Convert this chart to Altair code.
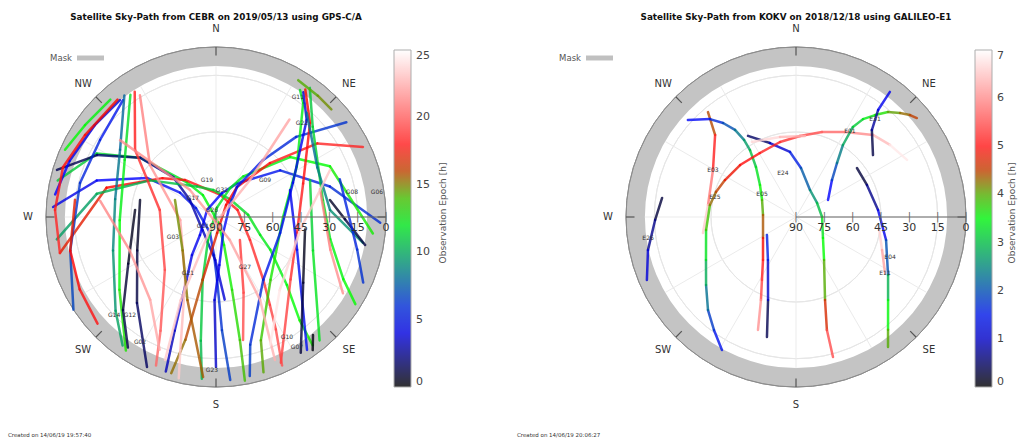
import altair as alt
import pandas as pd

FONT = "DejaVu Sans"
PANEL_W = 509
PANEL_H = 439
R = 170.0

# ---------------- colour bar ----------------
CMAP = ["#000000", "#0000ff", "#00ff00", "#ff0000", "#ffffff"]
CEBR_EPOCH_STOPS = [0, 4.6, 12.9, 17.1, 25]
KOKV_EPOCH_STOPS = [0, 1.29, 3.61, 4.79, 7]
CEBR_TICKS = [0, 5, 10, 15, 20, 25]
KOKV_TICKS = [0, 1, 2, 3, 4, 5, 6, 7]

# ---------------- polar frame ----------------
ELEV_GRID = [15, 30, 45, 60, 75]
ELEV_TICKS = [90, 75, 60, 45, 30, 15, 0]
SPOKE_AZ = [0, 30, 60, 90, 120, 150, 180, 210, 240, 270, 300, 330]
COMPASS_LABELS = ["N", "NE", "SE", "S", "SW", "W", "NW"]
COMPASS_AZ = [0, 45, 135, 180, 225, 270, 315]
COMPASS_TICK_AZ = [0, 45, 90, 135, 180, 225, 270, 315]
MASK_EL = 10

# ---------------- CEBR GPS tracks (az deg, el deg, epoch h) ----------------
C01 = [(283, 4, 11.0), (298, 18.5, 11.4), (308, 39, 11.8), (320, 66, 12.3), (329, 76.5, 12.5), (158, 87, 12.8),
       (164, 74.6, 13.0), (167.6, 50.5, 13.3), (169, 23.7, 13.7), (170, 2, 14.2)]
C02 = [(273.5, 3.6, 4.0), (287, 24, 4.4), (299.5, 48, 4.8), (304, 67, 5.1), (294, 78.4, 5.3), (200.6, 81, 5.5),
       (183, 69.8, 5.7), (179, 56.6, 5.9), (177, 30, 6.3), (175, 3.4, 6.6)]
C03 = [(257, 5.2, 16.4), (285, 30, 16.9), (306, 55, 17.3), (320, 64.4, 17.5), (10, 78, 17.8), (72, 78, 18.0),
       (124, 68.3, 18.3), (143, 48.4, 18.7), (148.5, 35.4, 19.0), (152, 22.5, 19.3), (156, 4, 19.8)]
C04 = [(286.5, 2.2, 1.2), (297.5, 19, 1.7), (308, 39, 2.2), (313, 59, 2.7), (303, 73.5, 3.0), (225, 80, 3.3),
       (181, 67.2, 3.6), (174, 46, 4.0)]
C05 = [(262, 4.9, 9.5), (281, 25.7, 10.0), (299, 50, 10.6), (328, 71, 11.1), (354, 75.6, 11.3), (39.5, 78, 11.6),
       (86, 73, 11.9), (112, 64.8, 12.1), (121, 56.5, 12.3), (133.8, 38, 12.7), (141, 19.6, 13.0), (143, 5, 13.4)]
C06 = [(92, 3, 6.2), (75, 27.6, 5.8), (54, 48, 5.4), (32, 69, 5.0), (14, 77, 4.8), (308, 84, 4.6),
       (221.6, 77.2, 4.4), (212.3, 66.2, 4.2), (205, 53, 4.0), (200, 26, 3.6), (198, 4, 3.1)]
C07 = [(96, 6.5, 13.4), (66, 24, 13.0), (51, 39.6, 12.6), (34, 64, 12.2), (26, 73, 12.0), (6, 85, 11.8),
       (199, 77, 11.5), (192, 56, 11.3), (187, 24, 10.8), (185, 4, 10.3)]
C08 = [(64.5, 3.8, 18.4), (54, 23.7, 18.0), (45, 49.6, 17.6), (35, 70.6, 17.2), (40, 81.7, 17.0), (176, 81.5, 16.8),
       (192, 56, 16.3), (194, 23, 15.6), (196, 4, 15.0)]
C09 = [(54, 4.7, 6.4), (45, 30, 6.0), (39.5, 51, 5.6), (35, 70.6, 5.2), (49, 80.3, 5.0), (156, 80.7, 4.7),
       (176, 64.5, 4.3), (181, 46, 4.0), (180, 10.6, 3.2)]
C10 = [(33.5, 9.4, 11.8), (37.4, 14, 12.0), (58, 39.6, 12.5), (90, 54.5, 13.0), (139, 46, 13.5), (160, 20.5, 14.1), (163, 4, 14.6)]
C11 = [(35, 9.4, 3.6), (43, 19.6, 4.0), (66, 45.4, 4.6), (104, 55, 5.1), (143, 48.4, 5.6), (165, 20, 6.2), (168, 4, 6.7)]
C12 = [(35, 7.6, 16.8), (45, 19.6, 17.2), (69, 40.6, 17.7), (101, 46.3, 18.2), (130, 38.5, 18.7), (156, 5.6, 19.5)]
C13 = [(36, 5.5, 10.8), (47, 20, 11.2), (81, 32.7, 11.8), (101, 28.4, 12.3), (116, 15, 12.8), (122, 3, 13.1)]
C14 = [(41, 16.8, 7.8), (64, 30.3, 8.4), (86.5, 29.5, 9.0), (100, 11, 9.6)]
C15 = [(81.5, 29, 0.4), (91, 21.7, 0.9), (100.6, 9.7, 1.4)]
C16 = [(320.6, 9.9, 3.6), (307, 9.5, 4.0), (291, 7, 4.4), (278, 4, 4.8)]
C17 = [(318, 6.4, 12.4), (305, 5.3, 12.7), (294, 2.5, 13.0)]
C18 = [(320, 8.9, 16.8), (302, 8.2, 17.2), (288, 4.8, 17.6), (272.5, 4.7, 18.0), (257, 5.2, 18.4)]
C19 = [(321.5, 10.9, 5.0), (303.6, 16.3, 5.5), (284, 15.8, 6.0), (257, 10.8, 6.5), (237, 0, 7.0)]
C20 = [(323, 9.4, 7.6), (305, 28, 8.1), (280, 35.8, 8.6), (252, 32.7, 9.1), (227, 17.3, 9.6), (216, 5.9, 10.1)]
C21 = [(325, 11, 11.6), (302, 33, 12.1), (268, 39, 12.6), (233, 26, 13.1), (214, 4.7, 13.6)]
C22 = [(327, 11, 17.6), (309.6, 34.4, 18.2), (277, 60, 18.8), (224, 51, 19.4), (206, 23, 20.0), (202, 5.2, 20.6)]
C23 = [(328, 14, 20.8), (308.2, 45.5, 21.4), (265, 71, 22.0), (206, 52.8, 22.6), (195, 17, 23.2), (193, 2.4, 23.6)]
C24 = [(277, 14.8, 16.4), (257, 10.8, 16.9), (242, 8.3, 17.4), (228, 5.6, 17.8)]
C25 = [(275, 47, 0.3), (242, 37.4, 0.7), (225, 20.4, 1.1), (214, 6.6, 1.5)]
C26 = [(282.6, 48.8, 0.4), (247, 44.7, 0.9), (222.6, 28.2, 1.4), (204.7, 2.6, 2.0)]
C27 = [(292.5, 66.5, 14.6), (225, 65, 15.0), (199, 43.5, 15.4), (184.6, 5, 15.9)]
C28 = [(134, 72.4, 18.6), (160, 47.3, 19.2), (167.6, 23.3, 19.8)]
C29 = [(37, 25.4, 22.0), (42.6, 63.4, 22.4), (205, 82.4, 22.8), (203, 42, 23.2), (199.6, 9.6, 23.6)]
C30 = [(308.7, 24.9, 21.2), (316, 70, 21.6), (149, 76, 22.0), (152, 40.3, 22.4), (157.6, 8.1, 22.8)]
C31 = [(70, 48.3, 4.0), (112, 43.7, 4.6), (145.6, 4.7, 5.3)]
C32 = [(98, 42.4, 0.2), (127, 32.2, 0.7), (148, 5.3, 1.3)]
C33 = [(68.5, 36.5, 11.0), (109, 35.7, 11.7), (140, 4.7, 12.3)]
C34 = [(75, 33, 20.6), (106, 27, 21.2), (121, 11.6, 21.8)]
C35 = [(73, 21.5, 5.4), (103, 13.3, 5.9), (114, 4.7, 6.3)]
C36 = [(140.6, 9.1, 0.1), (144, 2.9, 0.4)]
C37 = [(278, 28, 21.0), (249, 41, 21.5), (218.5, 34, 22.0), (203, 13.6, 22.5)]
C38 = [(67.6, 24.7, 23.0), (99, 45, 23.5), (139, 38.6, 24.0), (157, 16.5, 24.5)]
C39 = [(31, 5.5, 14.0), (40, 6.2, 14.5), (47, 6.5, 15.0)]
CEBR_TRACKS = [C01, C02, C03, C04, C05, C06, C07, C08, C09, C10, C11, C12, C13,
               C14, C15, C16, C17, C18, C19, C20, C21, C22, C23, C24, C25, C26,
               C27, C28, C29, C30, C31, C32, C33, C34, C35, C36, C37, C38, C39]

CEBR_SAT_NAMES = ["G11", "G22", "G08", "G06", "G09", "G19", "G32", "G17", "G26", "G01",
                  "G03", "G21", "G27", "G14", "G12", "G02", "G10", "G07", "G23"]
CEBR_SAT_AZ = [34.3, 42.5, 79.6, 81.2, 53, 346.3, 12.5, 309.6, 330.3, 235.3,
               245.1, 206.6, 149.9, 226.1, 221.3, 211.3, 149.4, 148.1, 181.5]
CEBR_SAT_EL = [13.1, 22.6, 16.8, 3.8, 57.5, 69.8, 75.3, 74.2, 85.7, 81.6,
               64.9, 56.9, 59.4, 15.1, 21.0, 12.6, 16.2, 8.9, 9.0]

# ---------------- KOKV Galileo tracks ----------------
K01 = [(320, 17.5, 4.2), (315.4, 29, 4.7), (299.5, 39.5, 5.4), (277.8, 43, 6.2), (260.2, 40, 6.9)]
K02 = [(311.9, 13.1, 1.2), (318.7, 21, 1.5), (322.2, 27, 1.8), (325, 33.7, 2.2), (326, 40.8, 2.5),
       (325.5, 47, 2.9), (321.3, 56.1, 3.2), (311.6, 64.5, 3.5), (296.6, 69.9, 3.8), (273.5, 72.5, 4.2),
       (237.5, 69.3, 4.6), (217.5, 61.3, 4.9), (208.4, 52.1, 5.2), (202.9, 42.3, 5.6), (198.6, 26.9, 6.5)]
K03 = [(193.6, 24.6, 0.1), (198.6, 43.6, 0.7), (213.1, 62.8, 1.3), (238.2, 71.9, 1.8)]
K04 = [(329.4, 40.1, 0.2), (340.6, 48.5, 0.8), (354.7, 55.4, 1.3), (5.8, 63.9, 1.8), (27.4, 73.9, 2.4),
       (56.3, 76.6, 2.8), (90, 76.2, 3.2), (127.9, 71.9, 3.5), (146.9, 62.8, 3.7), (160.7, 43.5, 4.3),
       (164.7, 28, 4.9), (165.2, 13.3, 6.0)]
K05 = [(209.1, 9.4, 1.3), (216, 16.1, 1.6), (223.4, 22.2, 2.0), (232.9, 30.3, 2.6), (244.5, 37.2, 3.1),
       (261.8, 41.9, 3.6), (277.9, 44, 4.2), (287.4, 45.6, 4.4), (297.5, 47.6, 4.6), (312.9, 49.6, 4.8),
       (330.6, 51.1, 5.0), (348, 49.4, 5.15), (2.8, 47.1, 5.3), (17, 42.9, 5.55), (30, 38.1, 5.8),
       (43.2, 30.4, 6.2), (52.5, 27.3, 6.6), (62.8, 23.9, 7.0)]
K06 = [(62, 70.8, 1.0), (44.2, 62.7, 1.6), (37.2, 54.1, 2.2), (33.1, 44.5, 2.6), (32.3, 33.6, 3.0),
       (34.4, 27.2, 3.3), (37.8, 21.7, 3.6), (41.2, 16.1, 3.9), (45, 12.1, 4.2), (48.2, 9.0, 4.4), (50.7, 7.3, 4.6)]
K07 = [(51.2, 37.7, 0.1), (41.1, 28.9, 0.6), (37.5, 18.6, 1.0), (36.9, 7.2, 1.4)]
K08 = [(51.2, 48.6, 0.1), (65.7, 48.8, 0.5), (85.1, 46.4, 0.9), (104.3, 40.8, 1.5), (122.2, 32.4, 2.5),
       (132, 24.4, 3.3), (140.8, 12.9, 3.8), (144.7, 5.7, 4.2)]
K09 = [(97.5, 45.7, 6.8), (111, 41.2, 6.4), (122.2, 34.3, 6.0)]
K10 = [(278.1, 18.4, 0.1), (268.8, 15.4, 0.5), (257.4, 9.7, 0.9), (247.1, 4.3, 1.3)]
K11 = [(329.6, 43.9, 6.8), (348.7, 46.8, 6.5), (6.3, 46.9, 6.2)]
KOKV_TRACKS = [K01, K02, K03, K04, K05, K06, K07, K08, K09, K10, K11]

KOKV_SAT_NAMES = ["E03", "E25", "E05", "E24", "E01", "E31", "E26", "E04", "E11"]
KOKV_SAT_AZ = [299.5, 283.9, 304.1, 343.5, 32.1, 38.9, 261.9, 113, 122.2]
KOKV_SAT_EL = [39.5, 45.8, 68.3, 65.7, 36.3, 23.4, 10.9, 35.9, 34.3]


def tracks_frame(tracks):
    rows = []
    for k, pts in enumerate(tracks):
        for i, (az, el, t) in enumerate(pts):
            rows.append({"sat": k, "i": i, "az": az, "el": el, "t": t})
    return pd.DataFrame(rows)


def polar(chart, el="el", out=("px", "py"), rname="r"):
    return (chart
            .transform_calculate(**{rname: f"(90 - datum.{el}) / 90"})
            .transform_calculate(**{out[0]: f"datum.{rname} * sin(datum.az * PI / 180)"})
            .transform_calculate(**{out[1]: f"datum.{rname} * cos(datum.az * PI / 180)"}))


def panel(tracks, names, naz, nel, cx, cy, title, stops, ticks, created, lx, ctitle_x):
    xs = alt.Scale(domain=[-cx / R, (PANEL_W - cx) / R], nice=False, zero=False)
    ys = alt.Scale(domain=[-(PANEL_H - cy) / R, cy / R], nice=False, zero=False)
    rs = alt.Scale(type="linear", domain=[0, 90], range=[R, 0])
    X0 = alt.X("x0:Q", scale=xs, axis=None)
    Y0 = alt.Y("y0:Q", scale=ys, axis=None)
    XP = alt.X("px:Q", scale=xs, axis=None)
    YP = alt.Y("py:Q", scale=ys, axis=None)

    mask = alt.Chart(pd.DataFrame({"el": [0], "el2": [MASK_EL], "x0": [0], "y0": [0]})).mark_arc(
        color="#c4c4c4", theta=0, theta2=6.2832).encode(
        x=X0, y=Y0, radius=alt.Radius("el:Q", scale=rs), radius2=alt.Radius2("el2:Q"))
    outer = alt.Chart(pd.DataFrame({"el": [0], "x0": [0], "y0": [0]})).mark_arc(
        filled=False, stroke="#8c8c8c", strokeWidth=1, theta=0, theta2=6.2832).encode(
        x=X0, y=Y0, radius=alt.Radius("el:Q", scale=rs))
    grid = alt.Chart(pd.DataFrame({"el": ELEV_GRID, "x0": 0, "y0": 0})).mark_arc(
        filled=False, stroke="#e6e6e6", strokeWidth=1, theta=0, theta2=6.2832).encode(
        x=X0, y=Y0, radius=alt.Radius("el:Q", scale=rs))
    spokes = polar(alt.Chart(pd.DataFrame({"az": SPOKE_AZ, "el": MASK_EL, "x0": 0, "y0": 0}))).mark_rule(
        color="#ebebeb", strokeWidth=1).encode(x=X0, y=Y0, x2="px:Q", y2="py:Q")
    cticks_df = pd.DataFrame({"az": COMPASS_TICK_AZ, "el": 0, "el2": 4.5})
    cticks = polar(polar(alt.Chart(cticks_df)), el="el2", out=("qx", "qy"), rname="r2").mark_rule(
        color="#555", strokeWidth=1.2).encode(x=XP, y=YP, x2="qx:Q", y2="qy:Q")

    tdf = tracks_frame(tracks)
    cscale = alt.Scale(domain=stops, range=CMAP, interpolate="rgb")
    trk = (polar(alt.Chart(tdf))
           .transform_window(nx="lead(px)", ny="lead(py)", nt="lead(t)", groupby=["sat"],
                             sort=[alt.SortField("i", order="ascending")])
           .transform_filter("datum.nx != null")
           .transform_calculate(tc="(datum.t + datum.nt) / 2")
           .mark_rule(strokeWidth=2.5, strokeCap="round", opacity=0.8)
           .encode(x=XP, y=YP, x2="nx:Q", y2="ny:Q",
                   color=alt.Color("tc:Q", scale=cscale,
                                   legend=alt.Legend(orient="none", legendX=lx, legendY=50,
                                                     direction="vertical", title=None,
                                                     gradientLength=337, gradientThickness=17,
                                                     gradientStrokeColor="#999", gradientStrokeWidth=1,
                                                     values=ticks, labelFontSize=11, labelColor="#444",
                                                     labelFont=FONT, labelOffset=5,
                                                     labelOverlap=False))))

    edf = pd.DataFrame({"el": ELEV_TICKS, "az": 90, "y0": 0,
                        "lab": [str(e) for e in ELEV_TICKS]})
    eline = polar(alt.Chart(edf)).mark_rule(color="#666", strokeWidth=1).encode(
        x=alt.X("min(px):Q", scale=xs, axis=None), x2="max(px):Q", y=alt.Y("min(y0):Q", scale=ys, axis=None))
    etick = polar(alt.Chart(edf)).mark_text(text="|", fontSize=10, color="#666", font=FONT).encode(
        x=XP, y=Y0)
    elab = polar(alt.Chart(edf)).mark_text(dy=11, fontSize=11, color="#333", font=FONT).encode(
        x=XP, y=Y0, text="lab:N")

    cdf = pd.DataFrame({"lab": COMPASS_LABELS, "az": COMPASS_AZ, "el": -9.5})
    clab = polar(alt.Chart(cdf)).mark_text(fontSize=10, color="#333", font=FONT).encode(
        x=XP, y=YP, text="lab:N")

    sdf = pd.DataFrame({"lab": names, "az": naz, "el": nel})
    slab = polar(alt.Chart(sdf)).mark_text(fontSize=6, color="#333", font=FONT).encode(
        x=XP, y=YP, text="lab:N")

    ttl = alt.Chart(pd.DataFrame({"s": [title]})).mark_text(
        font=FONT, fontSize=8.8, fontWeight="bold", color="#111").encode(
        x=alt.value(cx), y=alt.value(17), text="s:N")
    mtxt = alt.Chart(pd.DataFrame({"s": ["Mask"]})).mark_text(
        font=FONT, fontSize=8.5, color="#555", align="right").encode(
        x=alt.value(72), y=alt.value(58), text="s:N")
    mbar = alt.Chart(pd.DataFrame({"s": ["Mask"]})).mark_rule(color="#c0c0c0", strokeWidth=5).encode(
        x=alt.value(77), x2=alt.value(104), y=alt.value(58))
    ctd = alt.Chart(pd.DataFrame({"s": [created]})).mark_text(
        font=FONT, fontSize=5.5, color="#333", align="left").encode(
        x=alt.value(8), y=alt.value(435), text="s:N")
    cbt = alt.Chart(pd.DataFrame({"s": ["Observation Epoch [h]"]})).mark_text(
        font=FONT, fontSize=9, color="#555", angle=270).encode(
        x=alt.value(ctitle_x), y=alt.value(213), text="s:N")

    return alt.layer(mask, grid, spokes, outer, cticks, trk, eline, etick, elab, clab, slab,
                     ttl, mtxt, mbar, ctd, cbt).properties(width=PANEL_W, height=PANEL_H)


left = panel(CEBR_TRACKS, CEBR_SAT_NAMES, CEBR_SAT_AZ, CEBR_SAT_EL, 216, 217,
             "Satellite Sky-Path from CEBR on 2019/05/13 using GPS-C/A",
             CEBR_EPOCH_STOPS, CEBR_TICKS, "Created on 14/06/19 19:57:40", 394, 443)
right = panel(KOKV_TRACKS, KOKV_SAT_NAMES, KOKV_SAT_AZ, KOKV_SAT_EL, 287, 217,
              "Satellite Sky-Path from KOKV on 2018/12/18 using GALILEO-E1",
              KOKV_EPOCH_STOPS, KOKV_TICKS, "Created on 14/06/19 20:06:27", 466, 503)

chart = (alt.hconcat(left, right, spacing=0)
         .resolve_scale(x="independent", y="independent", color="independent", radius="independent")
         .resolve_legend(color="independent")
         .properties(padding=0, background="white")
         .configure_view(strokeWidth=0))

chart.save("out.html", embed_options={"renderer": "svg", "actions": False})
